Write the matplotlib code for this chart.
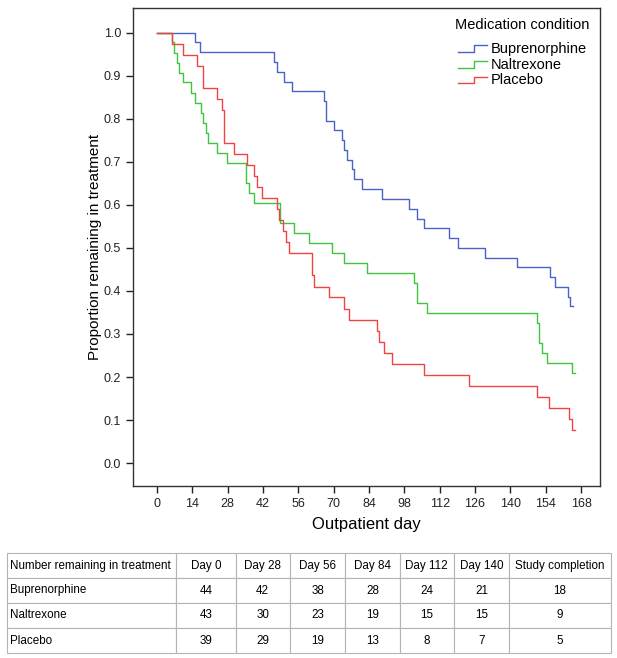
import matplotlib
matplotlib.use("Agg")
import matplotlib.pyplot as plt
from matplotlib.legend_handler import HandlerBase
from matplotlib.lines import Line2D

plt.rcParams['font.family'] = ['Liberation Sans', 'DejaVu Sans']

# Kaplan-Meier step points (day, proportion remaining)
bup_days = [0, 15, 17, 46.5, 47.4, 50.3, 53.4, 66, 67, 70.1, 73.3, 74.2, 75.4, 77.1,
            78.1, 81.1, 89, 100, 102.9, 105.8, 115.8, 119.1, 130, 142.8, 155.7, 157.7,
            162.7, 163.6, 164.7]
bup_surv = [1.0, 0.977, 0.955, 0.932, 0.909, 0.886, 0.864, 0.841, 0.795, 0.773, 0.750,
            0.727, 0.705, 0.682, 0.659, 0.636, 0.614, 0.591, 0.568, 0.545, 0.523, 0.500,
            0.477, 0.455, 0.432, 0.409, 0.386, 0.364, 0.364]

nal_days = [0, 5.8, 6.7, 7.8, 8.7, 10.4, 13.3, 15.1, 17.3, 18.4, 19.3, 20.3, 23.6, 27.6,
            35.3, 36.5, 38.4, 48.7, 54.4, 60.3, 69.2, 74.2, 83.3, 101.9, 102.9, 106.9,
            150.7, 151.5, 152.7, 154.6, 164.5, 165.6]
nal_surv = [1.0, 0.977, 0.953, 0.930, 0.907, 0.884, 0.860, 0.837, 0.814, 0.791, 0.767,
            0.744, 0.721, 0.698, 0.651, 0.628, 0.605, 0.558, 0.535, 0.512, 0.488, 0.465,
            0.442, 0.419, 0.372, 0.349, 0.326, 0.279, 0.256, 0.233, 0.209, 0.209]

pla_days = [0, 5.8, 10.4, 15.7, 18.4, 23.6, 25.6, 26.5, 30.5, 35.5, 38.4, 39.5, 41.5,
            47.4, 48.5, 50, 51.1, 52.3, 61.3, 62.2, 68.3, 74.2, 76.2, 87, 88, 90.1, 93,
            105.9, 123.7, 150.7, 155.4, 163.4, 164.3, 165.6]
pla_surv = [1.0, 0.974, 0.949, 0.923, 0.872, 0.846, 0.821, 0.744, 0.718, 0.692, 0.667,
            0.641, 0.615, 0.590, 0.564, 0.538, 0.513, 0.487, 0.436, 0.410, 0.385, 0.359,
            0.333, 0.308, 0.282, 0.256, 0.231, 0.205, 0.179, 0.154, 0.128, 0.103, 0.077,
            0.077]

groups = ["Buprenorphine", "Naltrexone", "Placebo"]
colors = ["#4a62c6", "#3ec43e", "#f04444"]

# numbers at risk table
table_header = ["Number remaining in treatment", "Day 0", "Day 28", "Day 56", "Day 84",
                "Day 112", "Day 140", "Study completion"]
bup_counts = [44, 42, 38, 28, 24, 21, 18]
nal_counts = [43, 30, 23, 19, 15, 15, 9]
pla_counts = [39, 29, 19, 13, 8, 7, 5]

x_ticks = list(range(0, 169, 14))
y_ticks = [i / 10 for i in range(11)]


# legend glyph shaped like a small step
class StepHandler(HandlerBase):
    def create_artists(self, legend, orig_handle, xdescent, ydescent, width, height,
                       fontsize, trans):
        xs = [-xdescent, -xdescent + 0.55 * width, -xdescent + 0.55 * width, -xdescent + width]
        ys = [-ydescent + 0.1 * height, -ydescent + 0.1 * height,
              -ydescent + 0.75 * height, -ydescent + 0.75 * height]
        line = Line2D(xs, ys, color=orig_handle.get_color(), lw=1.0)
        line.set_transform(trans)
        return [line]


fig = plt.figure(figsize=(6.17, 6.58), dpi=100)
ax = fig.add_axes([133 / 617, 1 - 486 / 658, (600 - 133) / 617, (486 - 8) / 658])

handles = []
for days, surv, name, c in zip([bup_days, nal_days, pla_days],
                               [bup_surv, nal_surv, pla_surv], groups, colors):
    h, = ax.step(days, surv, where='post', color=c, lw=1.0, label=name)
    handles.append(h)

ax.set_xlim(-9.5, 175.5)
ax.set_ylim(-0.053, 1.057)
ax.set_xticks(x_ticks)
ax.set_yticks(y_ticks)
ax.set_yticklabels(["%.1f" % v for v in y_ticks])
ax.tick_params(direction='out', length=5, width=1, colors='#222222', labelsize=9,
               top=False, right=False)
for s in ax.spines.values():
    s.set_color('#333333')
    s.set_linewidth(1)

ax.set_xlabel("Outpatient day", fontsize=12, labelpad=5)
ax.set_ylabel("Proportion remaining in treatment", fontsize=11, labelpad=1.5)

leg = ax.legend(handles=handles, labels=groups, title="Medication condition",
                loc='upper right', bbox_to_anchor=(1.0, 1.0), frameon=False,
                fontsize=10.5, title_fontsize=10.5, handlelength=2.0, handletextpad=0.25,
                labelspacing=0.12, borderaxespad=0.3,
                handler_map={Line2D: StepHandler()})
leg._legend_box.sep = 7

# table of numbers remaining
tax = fig.add_axes([7 / 617, 1 - 653 / 658, (611 - 7) / 617, (653 - 553) / 658])
tax.axis('off')
cell_text = [table_header]
for name, counts in zip(groups, [bup_counts, nal_counts, pla_counts]):
    cell_text.append([name] + [str(v) for v in counts])
col_w = [168, 59, 54, 55, 54, 54, 55, 101]
tot = sum(col_w)
tbl = tax.table(cellText=cell_text, colWidths=[w / tot for w in col_w],
                bbox=[0, 0, 1, 1], cellLoc='center')
tbl.auto_set_font_size(False)
for (r, c), cell in tbl.get_celld().items():
    cell.set_edgecolor('#b4b4b4')
    cell.set_linewidth(0.8)
    cell.get_text().set_fontsize(8.4)
    if c == 0:
        cell.get_text().set_ha('left')
        cell._loc = 'left'
        cell.PAD = 0.02

fig.savefig("out.png", dpi=100)
